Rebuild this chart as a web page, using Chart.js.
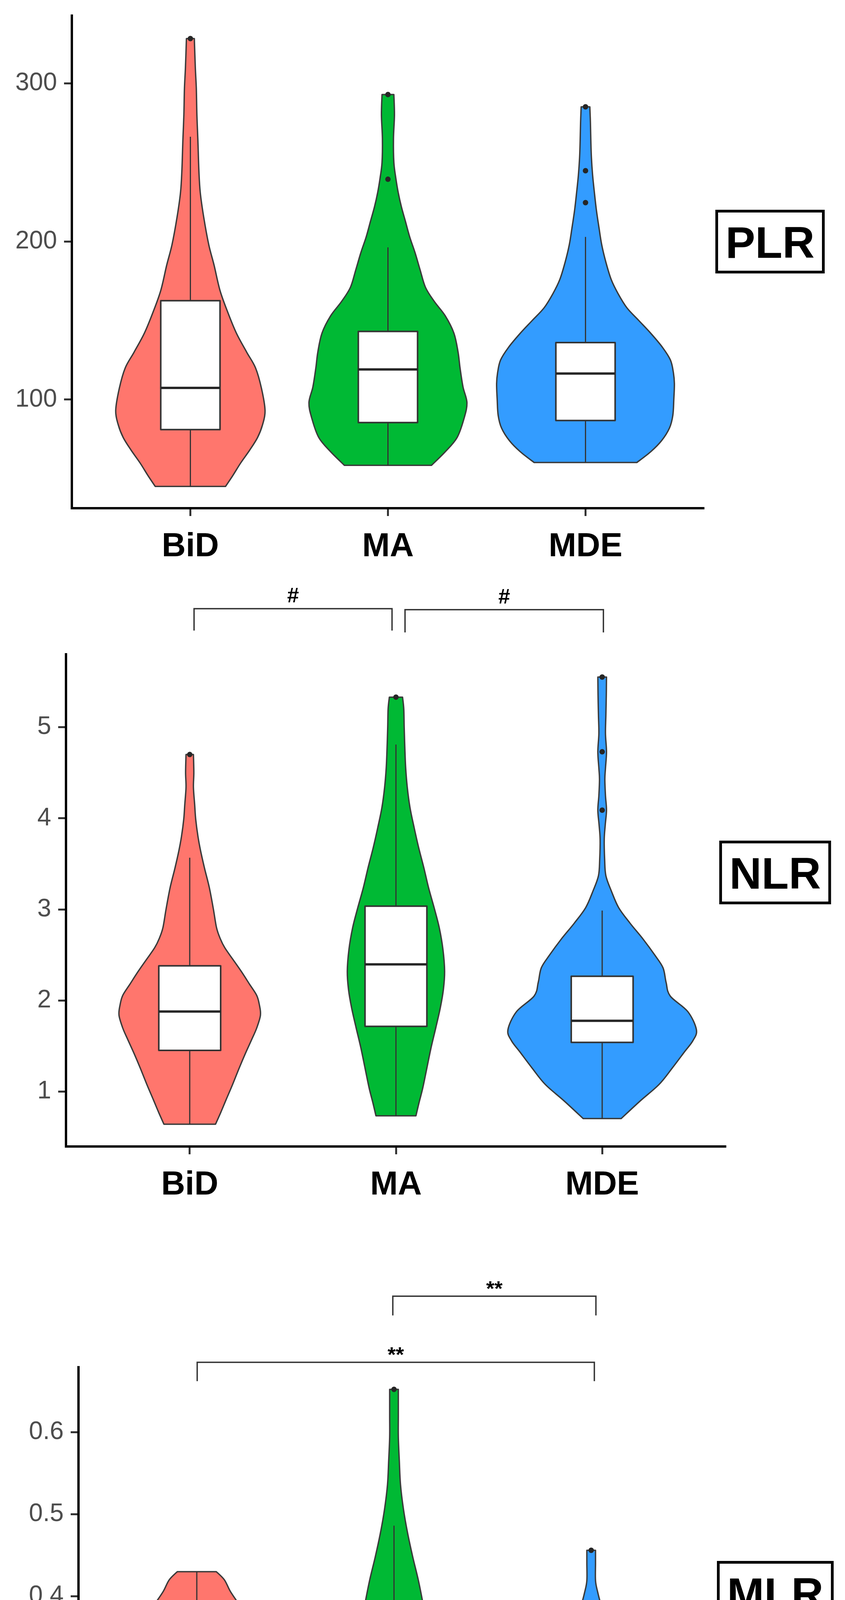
<!DOCTYPE html>
<html>
<head>
<meta charset="utf-8">
<script src="https://cdn.jsdelivr.net/npm/chart.js@4.4.0/dist/chart.umd.min.js"></script>
<style>
    html, body { margin: 0; padding: 0; background: #fff; }
    #wrap { position: relative; width: 2164px; height: 4924px; background: #fff; }
    canvas { position: absolute; left: 0; }
</style>
</head>
<body>
<div id="wrap">
    <canvas id="plr" width="2164" height="1460" style="top:0px;width:2164px;height:1460px"></canvas>
    <canvas id="nlr" width="2164" height="1640" style="top:1460px;width:2164px;height:1640px"></canvas>
    <canvas id="mlr" width="2164" height="1824" style="top:3100px;width:2164px;height:1824px"></canvas>
</div>
<script>
const categories = ['BiD', 'MA', 'MDE'];
const groupColors = ['#FF766D', '#00B934', '#339CFF'];

// ---- PLR ----
const plrTicks = [100, 200, 300];
const plrTickLabels = ['100', '200', '300'];
const plrRange = [31.3, 342.9];
// [lower whisker, Q1, median, Q3, upper whisker]
const plrBoxes = [
    [45.1, 81.0, 107.4, 162.6, 266.3],
    [58.4, 85.5, 119.1, 143.1, 196.3],
    [60.2, 86.8, 116.5, 136.1, 202.9],
];
const plrOutliers = [[328.4], [293, 239.4], [285.2, 244.8, 224.6]];
// violin outline: [value, half width in category units], top to bottom
const plrViolinBiD = [[328.4, 0.02], [310, 0.025], [297, 0.03], [280, 0.033], [264, 0.038], [245, 0.043], [231, 0.05],
    [215, 0.068], [198, 0.093], [185, 0.12], [169, 0.15], [155, 0.19], [142, 0.233], [130, 0.285], [120, 0.33],
    [107, 0.36], [93, 0.378], [84, 0.365], [76, 0.34], [68, 0.3], [60, 0.255], [52, 0.215], [45.1, 0.178]];
const plrViolinMA = [[293, 0.03], [280, 0.033], [265, 0.028], [250, 0.03], [240, 0.04], [231, 0.052], [222, 0.068],
    [213, 0.088], [203, 0.11], [193, 0.137], [182, 0.163], [171, 0.19], [162, 0.235], [153, 0.29], [142, 0.334],
    [130, 0.355], [120, 0.365], [108, 0.38], [98, 0.40], [88, 0.385], [76, 0.35], [67, 0.29], [58.4, 0.22]];
const plrViolinMDE = [[285.2, 0.022], [275, 0.025], [264, 0.027], [253, 0.03], [242, 0.036], [231, 0.045], [220, 0.055],
    [209, 0.068], [198, 0.082], [187, 0.103], [176, 0.13], [167, 0.165], [158, 0.21], [150, 0.27], [142, 0.33],
    [133, 0.39], [125, 0.43], [117, 0.445], [110, 0.45], [100, 0.447], [90, 0.442], [82, 0.425], [74, 0.385],
    [67, 0.33], [60.2, 0.26]];
const plrBrackets = [];

// ---- NLR ----
const nlrTicks = [1, 2, 3, 4, 5];
const nlrTickLabels = ['1', '2', '3', '4', '5'];
const nlrRange = [0.399, 5.80];
const nlrBoxes = [
    [0.643, 1.454, 1.880, 2.381, 3.568],
    [0.736, 1.717, 2.398, 3.036, 4.81],
    [0.705, 1.541, 1.778, 2.267, 2.988],
];
const nlrOutliers = [[4.70], [5.33], [5.55, 4.73, 4.09]];
const nlrViolinBiD = [[4.70, 0.018], [4.5, 0.02], [4.34, 0.018], [4.15, 0.024], [3.99, 0.029], [3.8, 0.04], [3.64, 0.053],
    [3.45, 0.072], [3.24, 0.095], [3.0, 0.115], [2.80, 0.13], [2.68, 0.148], [2.58, 0.17], [2.45, 0.21], [2.32, 0.25],
    [2.18, 0.29], [2.056, 0.325], [1.95, 0.338], [1.84, 0.343], [1.70, 0.325], [1.57, 0.30], [1.42, 0.27],
    [1.26, 0.24], [1.08, 0.208], [0.91, 0.176], [0.77, 0.15], [0.643, 0.125]];
const nlrViolinMA = [[5.33, 0.032], [5.2, 0.038], [5.0, 0.04], [4.78, 0.043], [4.56, 0.047], [4.34, 0.055], [4.12, 0.068],
    [3.9, 0.088], [3.68, 0.11], [3.46, 0.135], [3.24, 0.158], [3.02, 0.185], [2.80, 0.21], [2.56, 0.228], [2.32, 0.236],
    [2.12, 0.23], [1.92, 0.215], [1.7, 0.193], [1.48, 0.17], [1.26, 0.15], [1.04, 0.13], [0.88, 0.112], [0.736, 0.097]];
const nlrViolinMDE = [[5.55, 0.021], [5.35, 0.02], [5.13, 0.018], [4.93, 0.016], [4.73, 0.021], [4.55, 0.016], [4.43, 0.013],
    [4.25, 0.016], [4.09, 0.021], [3.93, 0.015], [3.77, 0.01], [3.55, 0.012], [3.37, 0.018], [3.2, 0.045], [3.02, 0.08],
    [2.85, 0.135], [2.67, 0.2], [2.5, 0.255], [2.36, 0.295], [2.2, 0.31], [2.05, 0.33], [1.88, 0.415], [1.68, 0.457],
    [1.56, 0.44], [1.44, 0.40], [1.26, 0.34], [1.08, 0.276], [0.9, 0.185], [0.705, 0.092]];
// [from, to, bar value, tip value, label]
const nlrBrackets = [[1.021, 1.981, 6.30, 6.06, '#'], [2.044, 3.006, 6.29, 6.04, '#']];

// ---- MLR ----
const mlrTicks = [0.1, 0.2, 0.3, 0.4, 0.5, 0.6];
const mlrTickLabels = ['0.1', '0.2', '0.3', '0.4', '0.5', '0.6'];
const mlrRange = [0.081, 0.679];
const mlrBoxes = [
    [0.1545, 0.208, 0.2906, 0.344, 0.430],
    [0.122, 0.2085, 0.257, 0.377, 0.486],
    [0.1077, 0.165, 0.2026, 0.273, 0.3685],
];
const mlrOutliers = [[], [0.652], [0.456]];
const mlrViolinBiD = [[0.430, 0.099], [0.42, 0.14], [0.406, 0.17], [0.39, 0.215], [0.377, 0.253], [0.36, 0.28],
    [0.342, 0.294], [0.325, 0.293], [0.307, 0.288], [0.29, 0.278], [0.272, 0.266], [0.255, 0.26], [0.236, 0.258],
    [0.215, 0.253], [0.195, 0.247], [0.172, 0.22], [0.1545, 0.195]];
const mlrViolinMA = [[0.652, 0.022], [0.62, 0.022], [0.594, 0.022], [0.565, 0.027], [0.536, 0.033], [0.506, 0.048],
    [0.477, 0.069], [0.448, 0.095], [0.419, 0.124], [0.39, 0.148], [0.36, 0.17], [0.33, 0.2], [0.301, 0.23],
    [0.27, 0.258], [0.242, 0.28], [0.213, 0.277], [0.195, 0.25], [0.178, 0.21], [0.16, 0.17], [0.143, 0.13],
    [0.122, 0.096]];
const mlrViolinMDE = [[0.456, 0.022], [0.44, 0.022], [0.419, 0.022], [0.405, 0.033], [0.39, 0.05], [0.372, 0.08],
    [0.354, 0.115], [0.333, 0.15], [0.313, 0.187], [0.292, 0.212], [0.272, 0.233], [0.254, 0.27], [0.236, 0.33],
    [0.218, 0.37], [0.2, 0.41], [0.185, 0.44], [0.175, 0.45], [0.162, 0.43], [0.149, 0.385], [0.137, 0.32],
    [0.125, 0.253], [0.115, 0.2], [0.108, 0.143]];
const mlrBrackets = [[1.994, 3.024, 0.7655, 0.742, '**'], [1.002, 3.016, 0.685, 0.662, '**']];

const FONT = 'Arial, "Liberation Sans", sans-serif';
const BOX_HALF = 0.15;

function splineThrough(ctx, pts) {
    for (let i = 0; i < pts.length - 1; i++) {
        const p0 = pts[i - 1] || pts[i], p1 = pts[i], p2 = pts[i + 1], p3 = pts[i + 2] || p2;
        ctx.bezierCurveTo(
            p1[0] + (p2[0] - p0[0]) / 6, p1[1] + (p2[1] - p0[1]) / 6,
            p2[0] - (p3[0] - p1[0]) / 6, p2[1] - (p3[1] - p1[1]) / 6,
            p2[0], p2[1]);
    }
}

function line(ctx, x1, y1, x2, y2) {
    ctx.beginPath();
    ctx.moveTo(x1, y1);
    ctx.lineTo(x2, y2);
    ctx.stroke();
}

// draws violins, boxes, brackets and the side label through the chart scales
function panelPlugin(panel) {
    return {
        id: 'panel_' + panel.label,
        beforeDatasetsDraw(chart) {
            const { ctx, scales: { x, y } } = chart;
            ctx.save();
            panel.violins.forEach((profile, i) => {
                const c = i + 1;
                const right = profile.map(([v, w]) => [x.getPixelForValue(c + w), y.getPixelForValue(v)]);
                const left = profile.map(([v, w]) => [x.getPixelForValue(c - w), y.getPixelForValue(v)]).reverse();
                ctx.beginPath();
                ctx.moveTo(right[0][0], right[0][1]);
                splineThrough(ctx, right);
                ctx.lineTo(left[0][0], left[0][1]);
                splineThrough(ctx, left);
                ctx.closePath();
                ctx.fillStyle = groupColors[i];
                ctx.fill();
                ctx.lineWidth = 3.5;
                ctx.strokeStyle = '#3a3a3a';
                ctx.lineJoin = 'round';
                ctx.stroke();
            });
            panel.boxes.forEach((b, i) => {
                const c = i + 1;
                const xl = x.getPixelForValue(c - BOX_HALF), xr = x.getPixelForValue(c + BOX_HALF);
                const xc = x.getPixelForValue(c);
                const [lo, q1, med, q3, hi] = b.map(v => y.getPixelForValue(v));
                ctx.strokeStyle = '#333';
                ctx.lineWidth = 3;
                line(ctx, xc, hi, xc, q3);
                line(ctx, xc, q1, xc, lo);
                ctx.fillStyle = '#fff';
                ctx.fillRect(xl, q3, xr - xl, q1 - q3);
                ctx.lineWidth = 4;
                ctx.strokeRect(xl, q3, xr - xl, q1 - q3);
                ctx.lineWidth = 6;
                ctx.strokeStyle = '#262626';
                line(ctx, xl, med, xr, med);
            });
            ctx.restore();
        },
        afterDraw(chart) {
            const { ctx, scales: { x, y } } = chart;
            ctx.save();
            panel.brackets.forEach(([a, b, top, tip, label]) => {
                const xa = x.getPixelForValue(a), xb = x.getPixelForValue(b);
                const yt = y.getPixelForValue(top), yb = y.getPixelForValue(tip);
                ctx.strokeStyle = '#333';
                ctx.lineWidth = 3.5;
                ctx.beginPath();
                ctx.moveTo(xa, yb);
                ctx.lineTo(xa, yt);
                ctx.lineTo(xb, yt);
                ctx.lineTo(xb, yb);
                ctx.stroke();
                ctx.fillStyle = '#000';
                ctx.font = 'bold 54px ' + FONT;
                ctx.textAlign = 'center';
                ctx.textBaseline = 'alphabetic';
                ctx.fillText(label, (xa + xb) / 2, yt - (label === '#' ? 16 : 1));
            });
            // side label in a box
            ctx.font = 'bold 114px ' + FONT;
            const tw = ctx.measureText(panel.label).width;
            const bw = tw + 52, bh = 163;
            const bx = panel.labelLeft, by = panel.labelMid - bh / 2;
            ctx.fillStyle = '#fff';
            ctx.fillRect(bx, by, bw, bh);
            ctx.strokeStyle = '#000';
            ctx.lineWidth = 7;
            ctx.strokeRect(bx + 3.5, by + 3.5, bw - 7, bh - 7);
            ctx.fillStyle = '#000';
            ctx.textAlign = 'center';
            ctx.textBaseline = 'alphabetic';
            ctx.fillText(panel.label, bx + bw / 2, panel.labelMid + 41);
            ctx.restore();
        }
    };
}

function makePanel(canvasId, panel) {
    const points = [];
    panel.outliers.forEach((vals, i) => vals.forEach(v => points.push({ x: i + 1, y: v })));
    return new Chart(document.getElementById(canvasId), {
        type: 'scatter',
        data: {
            datasets: [{
                data: points,
                pointRadius: 7,
                pointBackgroundColor: '#262626',
                pointBorderWidth: 0,
            }]
        },
        options: {
            responsive: false,
            animation: false,
            devicePixelRatio: 1,
            events: [],
            layout: { padding: { top: panel.padTop, right: panel.padRight, left: 0, bottom: 0 } },
            plugins: { legend: { display: false }, tooltip: { enabled: false } },
            scales: {
                x: {
                    type: 'linear',
                    min: 0.4,
                    max: 3.6,
                    afterBuildTicks: s => { s.ticks = categories.map((c, i) => ({ value: i + 1 })); },
                    afterFit: s => { s.height = panel.xAxisHeight; s.paddingLeft = 0; s.paddingRight = 0; },
                    ticks: {
                        callback: (v, i) => categories[i],
                        font: { family: FONT, size: 85, weight: 'bold' },
                        color: '#000',
                        padding: 29,
                        maxRotation: 0,
                        autoSkip: false,
                    },
                    grid: { drawOnChartArea: false, drawTicks: true, tickLength: 20, tickWidth: 5, tickColor: '#333', color: '#333' },
                    border: { display: true, color: '#000', width: 6 },
                },
                y: {
                    min: panel.range[0],
                    max: panel.range[1],
                    afterBuildTicks: s => { s.ticks = panel.ticks.map(v => ({ value: v })); },
                    afterFit: s => { s.width = panel.axisLeft; s.paddingTop = 0; s.paddingBottom = 0; },
                    ticks: {
                        callback: (v, i) => panel.tickLabels[i],
                        font: { family: FONT, size: 64 },
                        color: '#4D4D4D',
                        padding: 18,
                        autoSkip: false,
                    },
                    grid: { drawOnChartArea: false, drawTicks: true, tickLength: 20, tickWidth: 5, tickColor: '#333', color: '#333' },
                    border: { display: true, color: '#000', width: 6 },
                }
            }
        },
        plugins: [panelPlugin(panel)]
    });
}

makePanel('plr', {
    label: 'PLR', ticks: plrTicks, tickLabels: plrTickLabels, range: plrRange, boxes: plrBoxes,
    outliers: plrOutliers, violins: [plrViolinBiD, plrViolinMA, plrViolinMDE], brackets: plrBrackets,
    padTop: 40, padRight: 361, axisLeft: 184, xAxisHeight: 159, labelLeft: 1832, labelMid: 618.5,
});
makePanel('nlr', {
    label: 'NLR', ticks: nlrTicks, tickLabels: nlrTickLabels, range: nlrRange, boxes: nlrBoxes,
    outliers: nlrOutliers, violins: [nlrViolinBiD, nlrViolinMA, nlrViolinMDE], brackets: nlrBrackets,
    padTop: 215, padRight: 305, axisLeft: 169, xAxisHeight: 165, labelLeft: 1842, labelMid: 773.5,
});
makePanel('mlr', {
    label: 'MLR', ticks: mlrTicks, tickLabels: mlrTickLabels, range: mlrRange, boxes: mlrBoxes,
    outliers: mlrOutliers, violins: [mlrViolinBiD, mlrViolinMA, mlrViolinMDE], brackets: mlrBrackets,
    padTop: 400, padRight: 347, axisLeft: 201, xAxisHeight: 167, labelLeft: 1836, labelMid: 977.5,
});
</script>
</body>
</html>
